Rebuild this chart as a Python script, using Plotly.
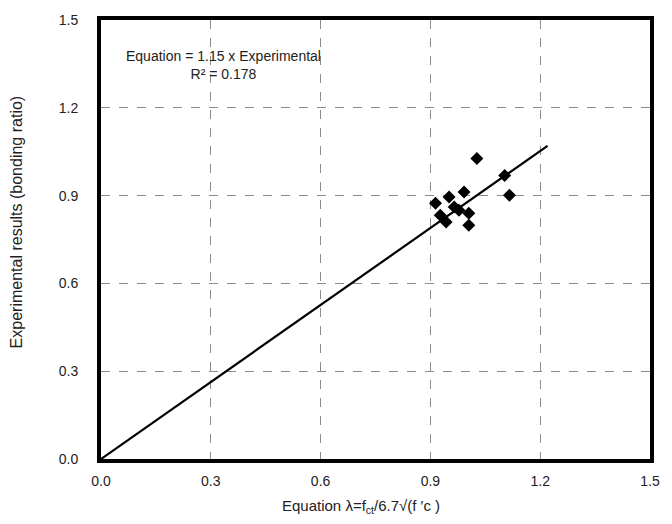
import plotly.graph_objects as go

# Data
equation_vals = [1.027, 1.103, 1.116, 0.992, 0.951, 0.914, 0.965, 0.978, 1.005, 0.927, 0.943, 1.005]
experimental_vals = [1.027, 0.969, 0.901, 0.912, 0.895, 0.874, 0.861, 0.850, 0.840, 0.833, 0.810, 0.799]
fit_x = [0.0, 1.22]
fit_y = [0.0, 1.07]
tick_vals = [0.0, 0.3, 0.6, 0.9, 1.2, 1.5]
tick_text = ["0.0", "0.3", "0.6", "0.9", "1.2", "1.5"]

FAM = "Liberation Sans, Arial, sans-serif"
tickfont = dict(family=FAM, size=14, color="#222")

fig = go.Figure()
fig.add_trace(go.Scatter(x=fit_x, y=fit_y, mode="lines",
                         line=dict(color="black", width=2.2), showlegend=False))
fig.add_trace(go.Scatter(x=equation_vals, y=experimental_vals, mode="markers",
                         marker=dict(symbol="diamond", color="black", size=10),
                         showlegend=False))

fig.update_xaxes(range=[0, 1.5], tickvals=tick_vals, ticktext=tick_text,
                 showgrid=True, gridcolor="#8c8c8c", griddash="dash", gridwidth=1,
                 showline=True, linecolor="#000000", linewidth=4, mirror=True,
                 zeroline=False,
                 ticks="outside", ticklen=6, tickcolor="rgba(255,255,255,0)",
                 tickfont=tickfont)
fig.update_yaxes(range=[0, 1.5], tickvals=tick_vals, ticktext=tick_text,
                 showgrid=True, gridcolor="#8c8c8c", griddash="dash", gridwidth=1,
                 showline=True, linecolor="#000000", linewidth=4, mirror=True,
                 zeroline=False,
                 ticks="outside", ticklen=16, tickcolor="rgba(255,255,255,0)",
                 tickfont=tickfont)

fig.update_layout(
    width=672, height=524,
    margin=dict(l=101, r=14, t=17, b=65),
    plot_bgcolor="white", paper_bgcolor="white",
    font=dict(family=FAM, size=14, color="#222"),
    annotations=[
        dict(x=0.335, y=1.345, xref="x", yref="y",
             text="Equation = 1.15 x Experimental<br>R² = 0.178",
             showarrow=False, font=dict(family=FAM, size=14, color="#222"),
             align="center"),
        dict(x=-0.154, y=0.54, xref="paper", yref="paper",
             text="Experimental results (bonding ratio)", textangle=-90,
             showarrow=False, font=dict(family=FAM, size=16, color="#222"),
             xanchor="center", yanchor="middle"),
        dict(x=0.474, y=-0.109, xref="paper", yref="paper",
             text="Equation λ=f<sub>ct</sub>/6.7√(f ′c )",
             showarrow=False, font=dict(family=FAM, size=15, color="#222"),
             xanchor="center", yanchor="middle"),
    ],
)

fig.write_html("out.html", post_script="document.body.style.margin='0';",
               config={"displayModeBar": False})
